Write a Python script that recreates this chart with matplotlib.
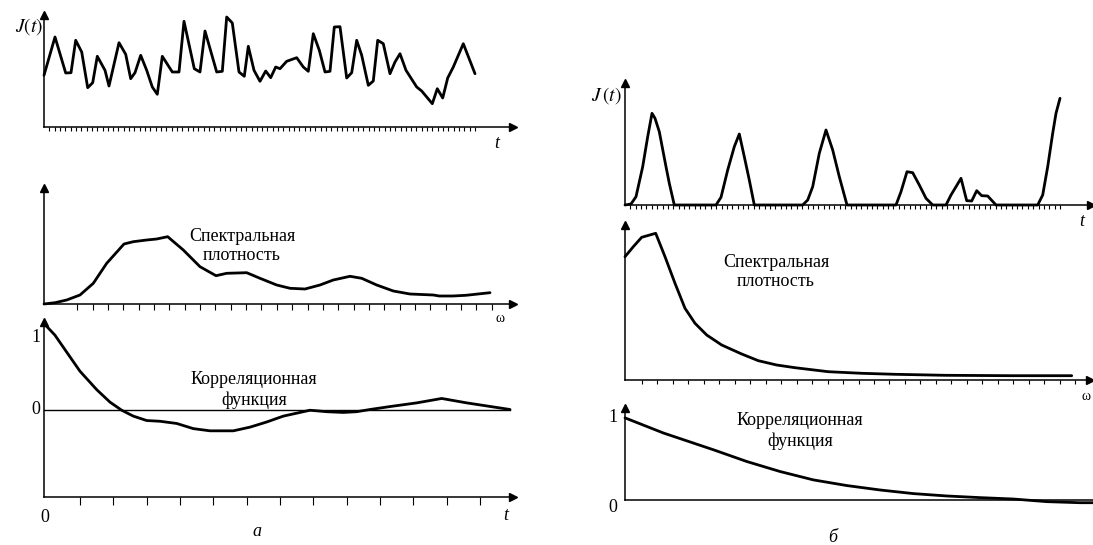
import numpy as np
import matplotlib
matplotlib.use('Agg')
from matplotlib import pyplot as plt

plt.rcParams['mathtext.fontset'] = 'stix'

# --- данные (а) ---
t_sig_a = [0, 11, 21.7, 27, 31.7, 37.7, 43.7, 48.7, 53.3, 61, 65, 75, 81.7, 86.7, 91, 96.7,
           102.7, 108.3, 113.3, 118.3, 128.3, 135, 140, 150.3, 156, 161, 172.7, 178.3, 182.7,
           188.3, 195, 200.3, 204.3, 210, 216, 221.7, 226.7, 231.7, 236, 242.7, 252.7, 259.3,
           264.3, 269.3, 275.3, 281, 286, 290.3, 296, 302.7, 307.7, 312.7, 317.7, 324.3, 329.3,
           333.7, 339.3, 346, 351, 356, 362, 372.7, 377.7, 388.3, 393.3, 398.7, 403.7, 409.3,
           419.3, 431]
j_sig_a = [51.7, 90, 54, 54.3, 86.7, 75, 39.3, 44.3, 70.7, 56.7, 41, 84.3, 72.7, 48.3, 54.3, 71.7,
           56.7, 40, 32.7, 70.7, 55, 55, 105.7, 58.3, 55, 96, 55, 55.7, 110,
           104, 55, 50.7, 80.7, 56.7, 45.7, 56, 49.3, 60, 58.3, 65.7, 69.3, 60,
           55.7, 93.3, 76.7, 55, 55.7, 100, 100.3, 49, 54.3, 86.7, 71.7, 41.7, 46,
           86.7, 83.3, 53.3, 65, 73.3, 56.7, 40, 36, 23.3, 38.3, 29, 49, 60,
           83.3, 53.3]

w_spec_a = [0, 11, 22.7, 36, 49.3, 62.7, 80, 89.3, 102.7, 112.7, 123.7, 139.3, 156, 172, 182.7,
            202.7, 216, 232.7, 246, 261, 276, 289.3, 306, 317.7, 332.7, 349.3, 366, 389.3,
            395.3, 408.7, 422, 446]
s_spec_a = [0, 1.3, 4, 9, 20.7, 40.7, 60, 62.3, 64, 65, 67.3, 54, 37.3, 28.3, 30.7,
            31.3, 25.7, 19, 15.7, 15, 19, 24, 27.7, 25.7, 19, 13, 10, 9,
            8, 8, 8.7, 11.3]

t_corr_a = [0, 11, 22.7, 36, 52.7, 66, 77.7, 89.3, 102.7, 116, 132.7, 149.3, 166, 189.3, 206,
            222.7, 239.3, 266, 282.7, 299.3, 312.7, 326, 346, 372.7, 397.7, 422.7, 466]
r_corr_a = [1.17, 1.01, 0.78, 0.52, 0.27, 0.10, -0.01, -0.09, -0.15, -0.16, -0.19, -0.26, -0.29,
            -0.29, -0.24, -0.17, -0.09, -0.01, -0.03, -0.04, -0.03, 0, 0.04, 0.09, 0.15, 0.09, 0]

# --- данные (б) ---
t_sig_b = [0, 6, 11, 17.7, 22.7, 27, 30, 34.3, 41, 44.3, 49.3, 91, 96, 102.7, 109.3, 114.3,
           119.3, 124.3, 129.3, 177.7, 182.7, 187.7, 194.3, 201, 207.7, 214.3, 222, 271, 276,
           282, 287.7, 294.3, 301, 307.7, 321, 326, 331, 336, 341.7, 346.7, 351.7, 356.7,
           362.7, 371, 412.7, 417.7, 422.7, 427.7, 431, 435]
j_sig_b = [0, 1, 8.3, 38.3, 68.3, 91.7, 86.7, 73.3, 38.3, 21.7, 0, 0, 7.7, 35, 58.3, 71,
           48.3, 25, 0, 0, 5, 18.3, 51.7, 75, 55, 28.3, 0, 0, 13.3,
           33.3, 32.3, 20, 6.7, 0, 0, 10, 18.3, 26.7, 4.3, 4, 14.3, 9.3,
           9, 0, 0, 10, 38.3, 71.7, 91.7, 106.7]

w_spec_b = [0, 8.3, 16.7, 30.7, 40, 50, 60, 70, 81.7, 96.7, 116.7, 133.3, 151.7, 170, 203.3,
            236.7, 270, 320, 386.7, 446.7]
s_spec_b = [123.3, 133.3, 142.7, 146.7, 123.3, 96.7, 71.7, 56.7, 45, 35, 26, 19.3, 15, 12.3, 8.3,
            6.7, 5.7, 4.7, 4.3, 4.3]

t_corr_b = [0, 38.3, 88.3, 121.7, 155, 188.3, 221.7, 255, 288.3, 321.7, 355, 388.3, 421.7, 455, 468]
r_corr_b = [1.0, 0.816, 0.612, 0.469, 0.347, 0.245, 0.176, 0.122, 0.078, 0.049, 0.029, 0.012,
            -0.02, -0.033, -0.033]

W, H = 1093, 545
fig = plt.figure(figsize=(W / 100, H / 100), dpi=100)
serif = 'Liberation Serif'


def make_ax(x0, x1, ytop, ybot):
    return fig.add_axes([x0 / W, 1 - ybot / H, (x1 - x0) / W, (ybot - ytop) / H])


def style(ax, ticks, ticklen, xarrow=True):
    ax.set_facecolor('none')
    for s in ['top', 'right']:
        ax.spines[s].set_visible(False)
    for s in ['left', 'bottom']:
        ax.spines[s].set_linewidth(1.1)
    if xarrow:
        ax.plot(1, 0, marker='>', ms=6, color='k', transform=ax.transAxes, clip_on=False)
    ax.plot(0, 1, marker='^', ms=6, color='k', transform=ax.transAxes, clip_on=False)
    ax.set_yticks([])
    ax.set_xticks(ticks)
    ax.tick_params(axis='x', direction='out', length=ticklen, width=0.8, labelbottom=False)


def curve(ax, x, y):
    ax.plot(x, y, color='k', lw=2.0, solid_joinstyle='round', solid_capstyle='round', clip_on=False)


def label(x, y, s, size=13, style='normal', ha='center'):
    fig.text(x / W, 1 - y / H, s, ha=ha, va='center', family=serif, fontsize=size, fontstyle=style)


# (а) сигнал
ax = make_ax(44, 513, 15, 127)
ax.set_xlim(0, 469)
ax.set_ylim(0, 112)
style(ax, np.linspace(5.3, 431, 81), 3)
curve(ax, t_sig_a, j_sig_a)

# (а) спектральная плотность
ax = make_ax(44, 513, 188, 304)
ax.set_xlim(0, 469)
ax.set_ylim(0, 116)
style(ax, np.linspace(33.3, 447.7, 28), 4)
curve(ax, w_spec_a, s_spec_a)

# (а) корреляционная функция
ax = make_ax(44, 513, 322, 497)
ax.set_xlim(0, 469)
ax.set_ylim(-1.19, 1.19)
style(ax, np.linspace(36, 436, 13), 6)
ax.plot([0, 466], [0, 0], color='k', lw=1.0)
curve(ax, t_corr_a, r_corr_a)

# (б) сигнал
ax = make_ax(625, 1091, 83, 205)
ax.set_xlim(0, 466)
ax.set_ylim(0, 122)
style(ax, np.linspace(5.3, 435, 81), 3)
curve(ax, t_sig_b, j_sig_b)

# (б) спектральная плотность
ax = make_ax(625, 1090, 225, 380)
ax.set_xlim(0, 465)
ax.set_ylim(0, 155)
style(ax, np.linspace(17, 450, 29), 3)
curve(ax, w_spec_b, s_spec_b)

# (б) корреляционная функция
ax = make_ax(625, 1093, 408, 500)
ax.set_xlim(0, 468)
ax.set_ylim(0, 1.12)
style(ax, [], 0, xarrow=False)
curve(ax, t_corr_b, r_corr_b)

# подписи
label(43, 27, '$J(t)$', 14, ha='right')
label(497, 143, 't', 13, 'italic')
label(242, 246, 'Спектральная\nплотность', 13)
label(500, 318, 'ω', 10)
label(36, 337, '1')
label(36, 410, '0')
label(45, 517, '0')
label(506, 515, 't', 13, 'italic')
label(254, 390, 'Корреляционная\nфункция', 13)
label(257, 532, 'а', 13, 'italic')

label(622, 96, '$J\\,(t)$', 14, ha='right')
label(1082, 221, 't', 13, 'italic')
label(776, 272, 'Спектральная\nплотность', 13)
label(1086, 397, 'ω', 10)
label(613, 418, '1')
label(613, 508, '0')
label(800, 431, 'Корреляционная\nфункция', 13)
label(833, 538, 'б', 13, 'italic')

fig.savefig('out.png', dpi=100)
